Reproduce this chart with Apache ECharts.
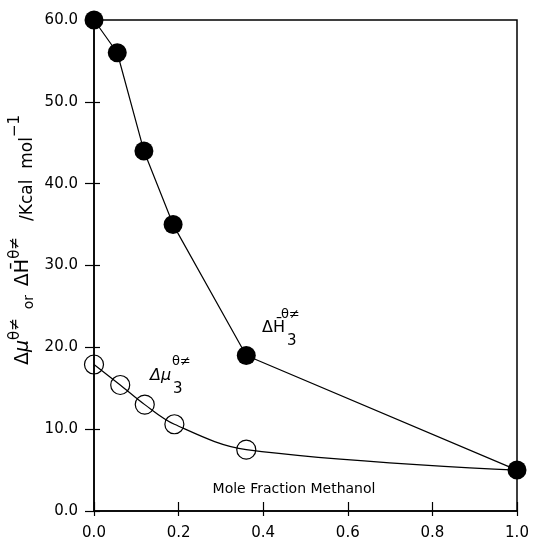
<!DOCTYPE html>
<html>
<head>
<meta charset="utf-8">
<title></title>
<script type="text/javascript" src="https://cdn.jsdelivr.net/npm/echarts@6/dist/echarts.min.js"></script>
<style>
  html, body { margin: 0; padding: 0; background: #fff; }
</style>
</head>
<body>
<div id="main" style="width: 533px; height: 543px;"></div>
<script type="text/javascript">
// enthalpy (filled circles)
var xH = [0, 0.055, 0.118, 0.187, 0.36, 1.0];
var yH = [60, 56, 44, 35, 19, 5];
// chemical potential (open circles)
var xMu = [0, 0.062, 0.12, 0.19, 0.36, 1.0];
var yMu = [17.9, 15.4, 13.0, 10.6, 7.5, 5];

var xTicks = [0, 0.2, 0.4, 0.6, 0.8, 1.0];
var yTicks = [0, 10, 20, 30, 40, 50, 60];

var FONT = 'DejaVu Sans';

var dataH = [];
for (var i = 0; i < xH.length; i++) {
    dataH.push([xH[i], yH[i]]);
}
var dataMu = [];
for (var i = 0; i < xMu.length; i++) {
    // last point sits under the filled circle
    if (i == xMu.length - 1) dataMu.push({ value: [xMu[i], yMu[i]], symbol: 'none' });
    else dataMu.push([xMu[i], yMu[i]]);
}

function fmt(v) { return v.toFixed(1); }

var myChart = echarts.init(document.getElementById('main'));
myChart.setOption({
    animation: false,
    backgroundColor: '#fff',
    textStyle: { fontFamily: FONT },
    grid: {
        left: 94, right: 16, top: 20, bottom: 32,
        show: true, borderColor: '#000', borderWidth: 1.5, backgroundColor: 'transparent'
    },
    xAxis: [{
        type: 'value', min: xTicks[0], max: xTicks[xTicks.length - 1], interval: 0.2,
        axisLine: { lineStyle: { color: '#000', width: 1.5 } },
        axisTick: { show: true, inside: false, length: 5, lineStyle: { color: '#000', width: 1.2 } },
        axisLabel: { formatter: fmt, color: '#000', fontSize: 15, margin: 15, fontFamily: FONT },
        splitLine: { show: false }
    }, {
        type: 'value', min: 0, max: 1, interval: 0.2, position: 'bottom',
        axisLine: { show: false },
        axisTick: { show: true, inside: true, length: 9, lineStyle: { color: '#000', width: 1.2 } },
        axisLabel: { show: false },
        splitLine: { show: false }
    }],
    yAxis: [{
        type: 'value', min: yTicks[0], max: yTicks[yTicks.length - 1], interval: 10,
        axisLine: { show: true, lineStyle: { color: '#000', width: 1.5 } },
        axisTick: { show: true, inside: false, length: 9, lineStyle: { color: '#000', width: 1.2 } },
        axisLabel: { formatter: fmt, color: '#000', fontSize: 15, margin: 16, fontFamily: FONT },
        splitLine: { show: false }
    }, {
        type: 'value', min: 0, max: 60, interval: 10, position: 'left',
        axisLine: { show: false },
        axisTick: { show: true, inside: true, length: 6, lineStyle: { color: '#000', width: 1.2 } },
        axisLabel: { show: false },
        splitLine: { show: false }
    }],
    graphic: [{
        type: 'text', x: 22, y: 240, rotation: Math.PI / 2,
        style: {
            text: '{m|Δ}{i|μ}{s|θ≠}{o|  or  }{m|ΔH̄}{s|θ≠}{u|   /Kcal  mol}{s|−1}',
            align: 'center', verticalAlign: 'middle',
            fill: '#000', font: '17px "DejaVu Sans"',
            rich: {
                m: { fontSize: 19, fontFamily: FONT, verticalAlign: 'bottom', lineHeight: 28, padding: [0, 0, 3, 0] },
                i: { fontSize: 19, fontFamily: FONT, fontStyle: 'italic', verticalAlign: 'bottom', lineHeight: 28, padding: [0, 0, 3, 0] },
                s: { fontSize: 15, fontFamily: FONT, verticalAlign: 'top', lineHeight: 28 },
                o: { fontSize: 14, fontFamily: FONT, verticalAlign: 'bottom', lineHeight: 28 },
                u: { fontSize: 17, fontFamily: FONT, verticalAlign: 'bottom', lineHeight: 28 }
            }
        }
    },
    { type: 'text', x: 150, y: 368, style: { text: 'Δμ', font: 'italic 16px "DejaVu Sans"', fill: '#000' } },
    { type: 'text', x: 172, y: 355, style: { text: 'θ≠', font: '13px "DejaVu Sans"', fill: '#000' } },
    { type: 'text', x: 173, y: 382, style: { text: '3', font: '15px "DejaVu Sans"', fill: '#000' } },
    { type: 'text', x: 262, y: 320, style: { text: 'ΔH̄', font: '16px "DejaVu Sans"', fill: '#000' } },
    { type: 'text', x: 281, y: 308, style: { text: 'θ≠', font: '13px "DejaVu Sans"', fill: '#000' } },
    { type: 'text', x: 287, y: 334, style: { text: '3', font: '15px "DejaVu Sans"', fill: '#000' } },
    {
        type: 'text', x: 294, y: 489,
        style: { text: 'Mole Fraction Methanol', font: '14px "DejaVu Sans"', fill: '#000', align: 'center', verticalAlign: 'middle' }
    }],
    series: [{
        name: 'mu',
        type: 'line',
        data: dataMu,
        smooth: 0.35,
        clip: false,
        symbol: 'circle',
        symbolSize: 19,
        itemStyle: { color: 'transparent', borderColor: '#000', borderWidth: 1.2 },
        lineStyle: { color: '#000', width: 1.2 },
        z: 2
    }, {
        name: 'H',
        type: 'line',
        data: dataH,
        clip: false,
        symbol: 'circle',
        symbolSize: 19,
        itemStyle: { color: '#000', borderColor: '#000', borderWidth: 0 },
        lineStyle: { color: '#000', width: 1.2 },
        z: 3
    }]
});
</script>
</body>
</html>
